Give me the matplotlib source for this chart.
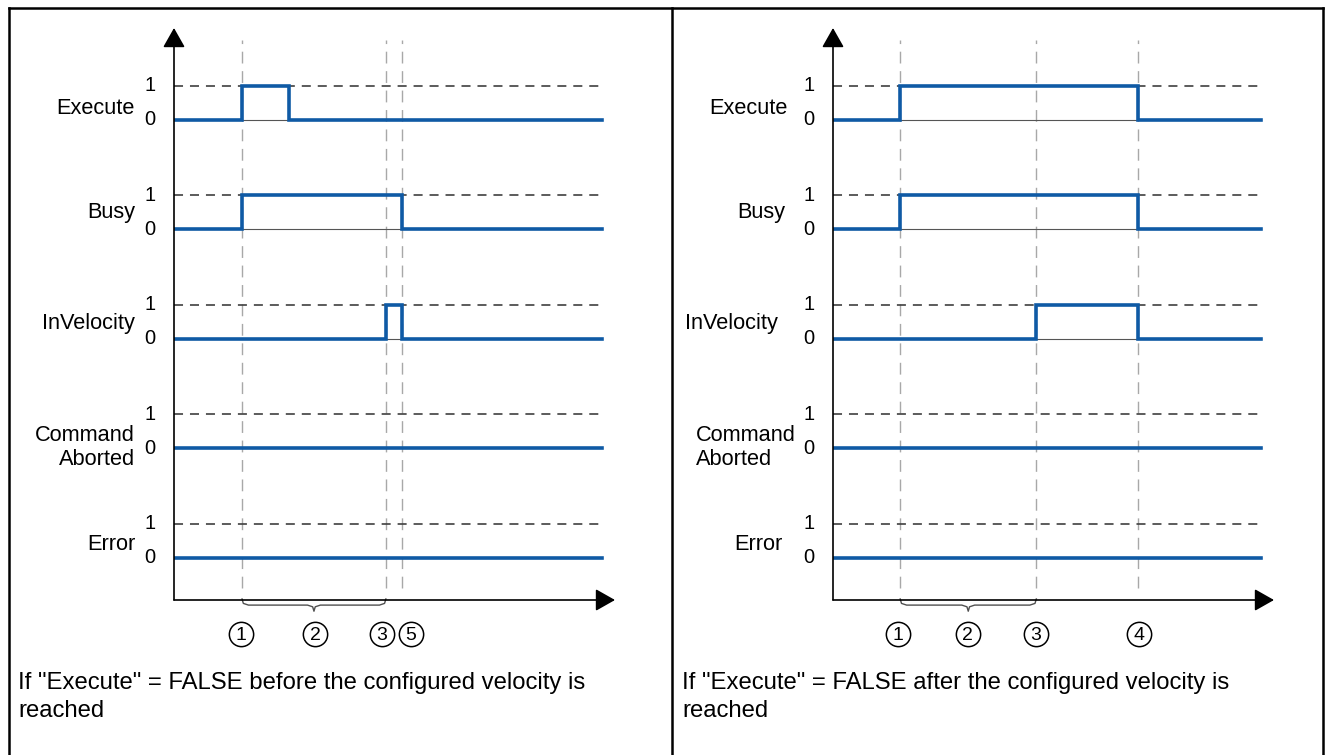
import numpy as np
import matplotlib.pyplot as plt

plt.rcParams['font.family'] = ['Liberation Sans', 'DejaVu Sans']
plt.rcParams['lines.scale_dashes'] = False

W, H = 1331, 755
PX_X = 42.8   # pixels per time unit
PX_Y = 34.0   # pixels per signal level

signal_names = ['Execute', 'Busy', 'InVelocity', 'Command\nAborted', 'Error']
t_end = 10.0

# left diagram: Execute drops before velocity reached
left_markers = [1.59, 4.95, 5.33]
left_edges = [[1.59, 2.69], [1.59, 5.33], [4.95, 5.33], [], []]
left_circle_labels = ['1', '2', '3', '5']
left_circle_t = [1.57, 3.3, 4.86, 5.54]
left_brace = (1.59, 4.95)
left_caption = 'If "Execute" = FALSE before the configured velocity is\nreached'

# right diagram: Execute drops after velocity reached
right_markers = [1.57, 4.75, 7.13]
right_edges = [[1.57, 7.13], [1.57, 7.13], [4.75, 7.13], [], []]
right_circle_labels = ['1', '2', '3', '4']
right_circle_t = [1.52, 3.15, 4.74, 7.15]
right_brace = (1.57, 4.75)
right_caption = 'If "Execute" = FALSE after the configured velocity is\nreached'

BLUE = '#0f5aa5'
row_zero = [1.24 + 3.22 * (4 - i) for i in range(5)]


def step_xy(edges):
    t, y, lvl = [0.0], [0], 0
    for e in edges:
        t += [e, e]
        y += [lvl, 1 - lvl]
        lvl = 1 - lvl
    t.append(t_end)
    y.append(lvl)
    return np.array(t), np.array(y)


def brace_xy(a, b):
    mid = (a + b) / 2
    d = 0.15
    xs = [a, a + 0.03, a + d, mid - d, mid - 0.03, mid, mid + 0.03, mid + d, b - d, b - 0.03, b]
    ys = [0.03, -0.1, -0.15, -0.15, -0.2, -0.33, -0.2, -0.15, -0.15, -0.1, 0.03]
    return xs, ys


def draw_panel(axis_px, markers, edges, circ_lab, circ_t, brace, name_x, name_ha):
    ax = fig.add_axes([axis_px / W, (H - 600) / H, 450 / W, (600 - 28) / H])
    ax.set_xlim(0, 450 / PX_X)
    ax.set_ylim(0, 572 / PX_Y)
    ax.axis('off')

    for m in markers:
        ax.plot([m, m], [12 / PX_Y, 560 / PX_Y], color='#a8a8a8', lw=1.0,
                dashes=(8.5, 5.5), clip_on=False, zorder=1)

    label_dy = [0.35, 0.5, 0.44, 0.03, 0.38]
    for i, z in enumerate(row_zero):
        ax.plot([0, t_end], [z + 1, z + 1], color='#404040', lw=1.2,
                dashes=(6.5, 5), zorder=2)
        ax.plot([0, t_end], [z, z], color='#555555', lw=0.8, zorder=2)
        t, y = step_xy(edges[i])
        ax.plot(t, y + z, color=BLUE, lw=2.6, solid_joinstyle='miter', zorder=3)
        ax.text(-0.56, z + 1, '1', ha='center', va='center', fontsize=14.5)
        ax.text(-0.56, z, '0', ha='center', va='center', fontsize=14.5)
        ax.text(name_x[i], z + label_dy[i], signal_names[i], ha=name_ha[i],
                va='center', fontsize=15.7, multialignment=name_ha[i],
                linespacing=1.15)

    arrow = dict(arrowstyle='-|>,head_length=0.6,head_width=0.34',
                 mutation_scale=20, lw=1.2, color='black', shrinkA=0, shrinkB=0)
    ax.annotate('', xy=(0, 572 / PX_Y), xytext=(0, 0), arrowprops=arrow)
    ax.annotate('', xy=(441 / PX_X, 0), xytext=(0, 0), arrowprops=arrow)

    bx, by = brace_xy(*brace)
    ax.plot(bx, by, color='#505050', lw=1.0, clip_on=False)

    cy = -1.0
    ax.plot(circ_t, [cy] * len(circ_t), 'o', ms=17.5, mfc='white', mec='black',
            mew=1.1, clip_on=False)
    for lab, t in zip(circ_lab, circ_t):
        ax.text(t, cy, lab, ha='center', va='center_baseline', fontsize=14)
    return ax


fig = plt.figure(figsize=(W / 100, H / 100), dpi=100)

# frame of the two cells
bg = fig.add_axes([0, 0, 1, 1])
bg.set_xlim(0, W)
bg.set_ylim(H, 0)
bg.axis('off')
for x in [9, 672, 1323]:
    bg.plot([x, x], [8, H], color='black', lw=1.8)
bg.plot([9, 1323], [8, 8], color='black', lw=1.8)

draw_panel(174, left_markers, left_edges, left_circle_labels, left_circle_t,
           left_brace, [-0.91] * 5, ['right'] * 5)
draw_panel(833, right_markers, right_edges, right_circle_labels, right_circle_t,
           right_brace, [-1.07, -1.12, -1.29, -3.2, -1.17],
           ['right', 'right', 'right', 'left', 'right'])

fig.text(18 / W, 1 - 672 / H, left_caption, ha='left', va='top', fontsize=17.2,
         linespacing=1.38)
fig.text(682 / W, 1 - 672 / H, right_caption, ha='left', va='top', fontsize=17.2,
         linespacing=1.38)

fig.savefig('out.png', dpi=100)
